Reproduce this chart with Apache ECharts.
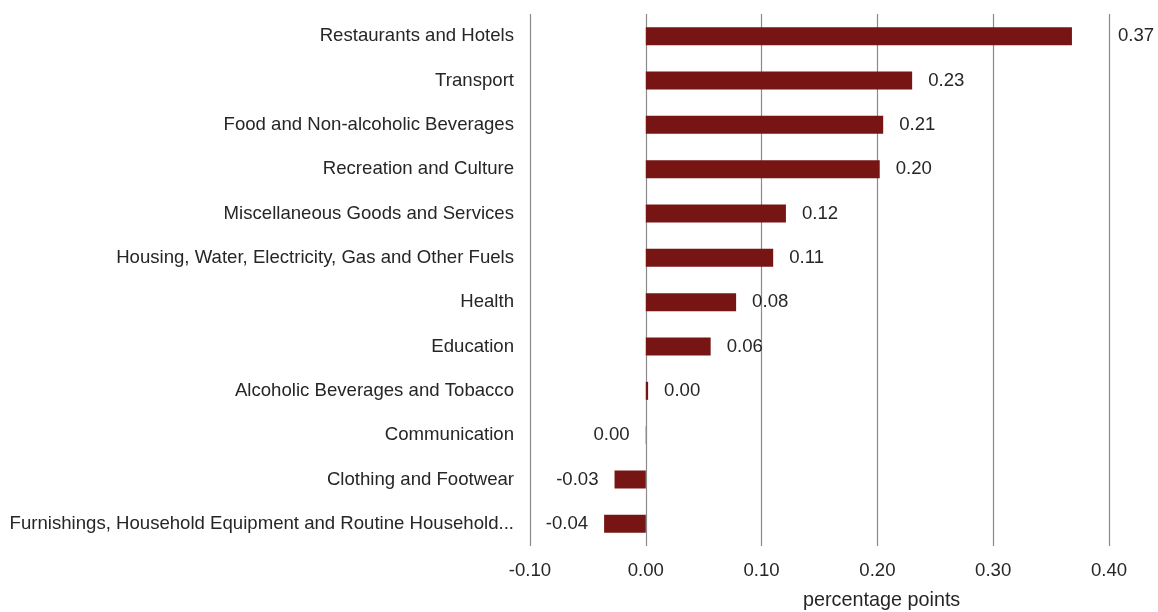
<!DOCTYPE html>
<html>
<head>
<meta charset="utf-8">
<script src="https://cdn.jsdelivr.net/npm/echarts@6/dist/echarts.min.js"></script>
<style>html,body{margin:0;padding:0;background:#fff;}#c{width:1158px;height:612px;}</style>
</head>
<body>
<div id="c"></div>
<script>
const categories = [
  "Restaurants and Hotels",
  "Transport",
  "Food and Non-alcoholic Beverages",
  "Recreation and Culture",
  "Miscellaneous Goods and Services",
  "Housing, Water, Electricity, Gas and Other Fuels",
  "Health",
  "Education",
  "Alcoholic Beverages and Tobacco",
  "Communication",
  "Clothing and Footwear",
  "Furnishings, Household Equipment and Routine Household..."
];
const values = [0.368, 0.230, 0.205, 0.202, 0.121, 0.110, 0.078, 0.056, 0.002, -0.0002, -0.027, -0.036];
const tickLabels = ["-0.10", "0.00", "0.10", "0.20", "0.30", "0.40"];

const FS = 18.6;
const FONT = 'Liberation Sans, Arial, sans-serif';
const fmt = v => (Math.round(v * 100) / 100).toFixed(2).replace("-0.00", "0.00");
const maxV = Math.max(...values);
const seriesData = values.map(v => ({
  value: v,
  label: {
    position: v < 0 ? 'left' : 'right',
    distance: v === maxV ? 46 : 16
  }
}));

const chart = echarts.init(document.getElementById('c'));
chart.setOption({
  animation: false,
  textStyle: { fontFamily: FONT },
  grid: { left: 530, right: 49, top: 14, bottom: 66 },
  xAxis: {
    type: 'value',
    min: -0.1, max: 0.4, interval: 0.1,
    axisLine: { show: false },
    axisTick: { show: false },
    axisLabel: {
      fontSize: FS, color: '#262626', margin: 15,
      formatter: (v) => tickLabels[Math.round((v + 0.1) * 10)]
    },
    splitLine: { show: true, lineStyle: { color: '#8a8a8a', width: 1.2 } }
  },
  yAxis: {
    type: 'category',
    data: categories,
    inverse: true,
    axisLine: { show: false },
    axisTick: { show: false },
    axisLabel: { fontSize: FS, color: '#262626', margin: 16 }
  },
  series: [{
    type: 'bar',
    data: seriesData,
    barWidth: 18,
    itemStyle: { color: '#771414' },
    label: {
      show: true, fontSize: FS, color: '#262626',
      formatter: p => fmt(p.value)
    }
  }],
  graphic: [{
    type: 'text',
    left: 803, top: 591,
    style: { text: 'percentage points', fontSize: 19.8, fill: '#262626', fontFamily: FONT }
  }]
});
</script>
</body>
</html>
